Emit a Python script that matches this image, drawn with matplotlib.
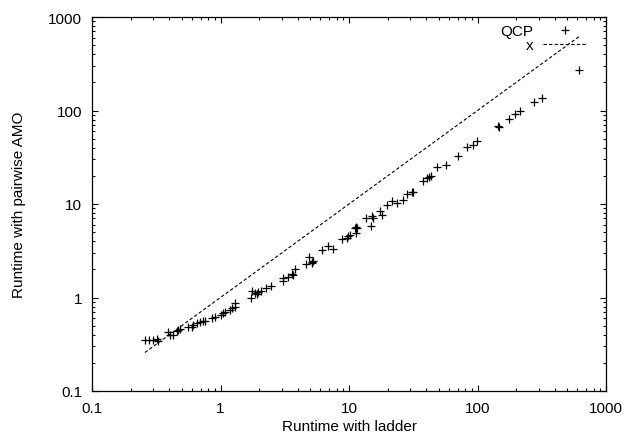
import matplotlib
matplotlib.use("Agg")
import matplotlib.pyplot as plt
from matplotlib.ticker import LogLocator, FixedLocator, FixedFormatter, NullFormatter

plt.rcParams['font.family'] = ['Liberation Sans', 'DejaVu Sans']

ladder = [0.258, 0.278, 0.300, 0.319, 0.324, 0.393, 0.405, 0.429, 0.456, 0.469,
          0.484, 0.562, 0.597, 0.614, 0.653, 0.692, 0.735, 0.757, 0.854, 0.906,
          1.009, 1.05, 1.083, 1.186, 1.22, 1.297, 1.297, 1.728, 1.75, 1.855,
          1.91, 1.947, 2.066, 2.26, 2.47, 3.08, 3.08, 3.37, 3.62, 3.69,
          3.80, 4.63, 4.89, 5.13, 5.27, 5.16, 6.13, 6.90, 7.47, 8.77,
          9.60, 9.88, 10.2, 11.1, 11.3, 11.5, 11.3, 13.6, 14.8, 15.0,
          15.5, 17.4, 18.2, 19.9, 21.5, 23.5, 26.2, 28.4, 30.8, 31.6,
          37.5, 40.3, 42.2, 43.2, 48.1, 56.9, 70.9, 83.3, 91.8, 98.6,
          145, 148, 177, 196, 214, 275, 316, 616]
pairwise = [0.351, 0.351, 0.351, 0.360, 0.345, 0.425, 0.400, 0.397, 0.441, 0.452,
            0.460, 0.480, 0.487, 0.508, 0.530, 0.543, 0.561, 0.561, 0.604, 0.618,
            0.650, 0.683, 0.695, 0.741, 0.766, 0.786, 0.873, 0.988, 1.165, 1.117,
            1.089, 1.137, 1.165, 1.254, 1.337, 1.60, 1.51, 1.645, 1.78, 1.74,
            2.02, 2.28, 2.69, 2.42, 2.48, 2.34, 3.22, 3.53, 3.30, 4.22,
            4.30, 4.51, 4.66, 5.50, 5.72, 5.54, 4.90, 7.03, 5.77, 7.39,
            7.03, 8.35, 7.63, 9.83, 10.8, 10.3, 11.1, 12.8, 13.5, 13.3,
            17.7, 18.8, 19.3, 19.8, 24.7, 26.1, 32.9, 40.4, 42.8, 47.5,
            68.8, 66.1, 81.1, 91.8, 98.0, 124, 135, 271]
series_label = "QCP"
line_label = "x"
x_title = "Runtime with ladder"
y_title = "Runtime with pairwise AMO"
tick_values = [0.1, 1, 10, 100, 1000]
tick_labels = ["0.1", "1", "10", "100", "1000"]

fig = plt.figure(figsize=(6.26, 4.39), dpi=100)
ax = fig.add_axes([92/626, 1-392/439, (606-92)/626, (392-18)/439])

ax.plot(ladder, pairwise, linestyle='none', marker='+', markersize=6,
        markeredgewidth=0.9, color='black', label=series_label)
lo, hi = min(ladder), max(ladder)
ax.plot([lo, hi], [lo, hi], linestyle=(0, (3, 2)), linewidth=0.8,
        color='black', label=line_label)

ax.set_xscale('log')
ax.set_yscale('log')
ax.set_xlim(0.1, 1000)
ax.set_ylim(0.1, 1000)

for axis in (ax.xaxis, ax.yaxis):
    axis.set_major_locator(FixedLocator(tick_values))
    axis.set_major_formatter(FixedFormatter(tick_labels))
    axis.set_minor_locator(LogLocator(base=10, subs=range(2, 10)))
    axis.set_minor_formatter(NullFormatter())

ax.tick_params(which='both', direction='in', top=True, right=True,
               color='black', width=0.8)
ax.tick_params(which='major', length=4.5, labelsize=11, pad=7)
ax.tick_params(which='minor', length=2.3)
for s in ax.spines.values():
    s.set_linewidth(0.9)
    s.set_color('black')

ax.set_xlabel(x_title, fontsize=11, labelpad=3)
ax.set_ylabel(y_title, fontsize=11, labelpad=16)

leg = ax.legend(loc='upper right', bbox_to_anchor=(0.963, 0.981),
                markerfirst=False, frameon=False,
                fontsize=11, handlelength=2.9, handletextpad=0.6,
                labelspacing=0.0, borderaxespad=0.0, borderpad=0.0)

fig.savefig('out.png', dpi=100)
